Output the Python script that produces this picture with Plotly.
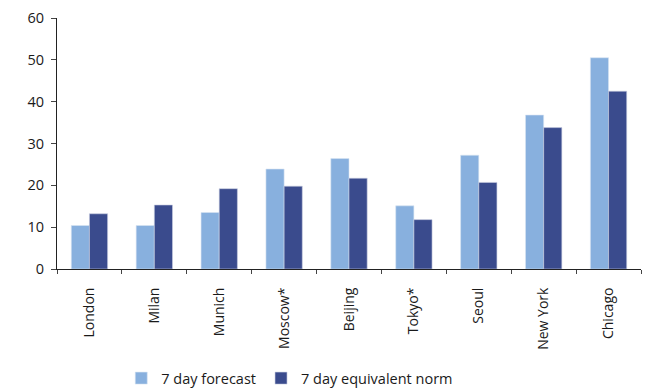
import plotly.graph_objects as go

cities = ["London", "Milan", "Munich", "Moscow*", "Beijing", "Tokyo*", "Seoul", "New York", "Chicago"]
forecast = [10.4, 10.4, 13.5, 23.9, 26.4, 15.1, 27.2, 36.8, 50.5]
norm = [13.2, 15.3, 19.2, 19.8, 21.7, 11.8, 20.7, 33.8, 42.5]
y_ticks = [0, 10, 20, 30, 40, 50, 60]

FONT = "Open Sans"

fig = go.Figure()
fig.add_trace(go.Bar(x=cities, y=forecast, name="7 day forecast",
                     marker=dict(color="#88B0DE", line=dict(color="#D8E4F2", width=0.6))))
fig.add_trace(go.Bar(x=cities, y=norm, name="7 day equivalent norm",
                     marker=dict(color="#3A4B8D", line=dict(color="#C9CFE0", width=0.6))))

fig.update_layout(
    width=650, height=390,
    margin=dict(l=49, r=17, t=10, b=129, autoexpand=False),
    paper_bgcolor="white", plot_bgcolor="white",
    barmode="group", bargap=0.44, bargroupgap=0.0,
    font=dict(family=FONT, size=14, color="#1a1a1a"),
    showlegend=True,
    legend=dict(orientation="h", x=0.11, xanchor="left", y=-0.435, yanchor="middle",
                font=dict(size=14.5), itemwidth=30, traceorder="normal",
                bgcolor="rgba(0,0,0,0)"),
    xaxis=dict(showline=True, linecolor="#222", linewidth=1, ticks="outside", tickson="boundaries",
               ticklen=4, tickcolor="#444", tickangle=-90, showgrid=False, zeroline=False,
               ticklabelstandoff=12, tickfont=dict(size=14), automargin=False,
               ticklabeloverflow="allow"),
    yaxis=dict(range=[0, 60], tickvals=y_ticks, showline=True, linecolor="#222", linewidth=1,
               ticks="outside", ticklen=5, tickcolor="#444", showgrid=False, zeroline=False,
               ticklabelstandoff=4, tickfont=dict(size=14.5), automargin=False,
               ticklabeloverflow="allow"),
)

fig.write_html("out.html")
